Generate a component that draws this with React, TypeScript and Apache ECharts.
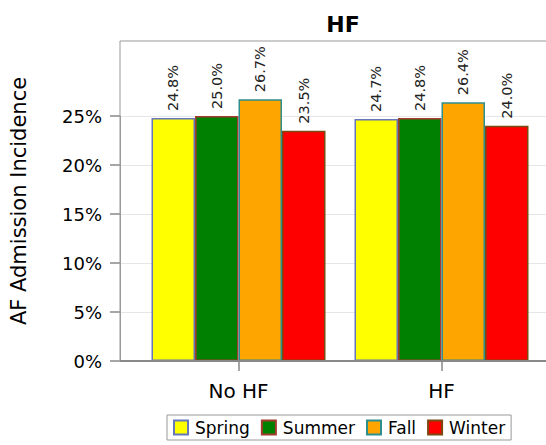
import React, { useEffect, useRef } from "react";
import * as echarts from "echarts";

const categories = ["No HF", "HF"];
const seasons = ["Spring", "Summer", "Fall", "Winter"];
const springValues = [24.8, 24.7];
const summerValues = [25.0, 24.8];
const fallValues = [26.7, 26.4];
const winterValues = [23.5, 24.0];
const seasonValues = [springValues, summerValues, fallValues, winterValues];
const fillColors = ["#FFFF00", "#008000", "#FFA500", "#FF0000"];
const borderColors = ["#6677BB", "#A33B2E", "#2F8F8F", "#7A4A10"];
const yTickMax = 25;
const yTickStep = 5;

const FONT = "DejaVu Sans";

export default function App() {
  const ref = useRef<HTMLDivElement>(null);
  useEffect(() => {
    if (!ref.current) return;
    const chart = echarts.init(ref.current, null, { renderer: "svg" });
    const series: any[] = seasons.map((name, i) => ({
      name,
      type: "bar",
      xAxisIndex: 0,
      yAxisIndex: 0,
      data: seasonValues[i],
      barWidth: 43.5,
      barGap: "0%",
      itemStyle: {
        color: fillColors[i],
        borderColor: borderColors[i],
        borderWidth: 1.5,
      },
      label: {
        show: true,
        position: "top",
        rotate: 90,
        align: "left",
        verticalAlign: "middle",
        distance: 7,
        fontFamily: FONT,
        fontSize: 14.5,
        color: "#222",
        formatter: (p: any) => p.value.toFixed(1) + "%",
      },
      z: 3,
    }));
    chart.setOption({
      animation: false,
      backgroundColor: "#fff",
      title: {
        text: "HF",
        left: 338,
        textAlign: "center",
        top: 8,
        textStyle: { fontFamily: FONT, fontSize: 22, fontWeight: "bold", color: "#000" },
      },
      legend: {
        data: seasons,
        left: 167,
        top: 415,
        icon: "rect",
        itemWidth: 14,
        itemHeight: 14,
        itemGap: 11,
        padding: [4, 6],
        borderColor: "#999",
        borderWidth: 1,
        textStyle: { fontFamily: FONT, fontSize: 17, color: "#000", padding: [0, 0, 0, 2] },
      },
      grid: [
        { left: 133, right: 3, top: 41, bottom: 84 },
        { left: 120, right: 0, top: 116, bottom: 84 },
      ],
      xAxis: [
        {
          type: "category",
          gridIndex: 0,
          data: categories,
          axisLine: { show: false },
          axisTick: { show: true, alignWithLabel: true, length: 10, lineStyle: { color: "#888", width: 1.5 } },
          axisLabel: { fontFamily: FONT, fontSize: 20, color: "#000", margin: 20 },
        },
        { type: "value", gridIndex: 1, show: false, min: 0, max: 1 },
      ],
      yAxis: [
        {
          type: "value",
          gridIndex: 0,
          min: 0,
          max: 32.65,
          name: "AF Admission Incidence",
          nameLocation: "middle",
          nameGap: 108,
          nameTextStyle: { fontFamily: FONT, fontSize: 21, color: "#000" },
          axisLine: { show: false },
          axisTick: { show: false },
          axisLabel: { show: false },
          splitLine: { show: false },
        },
        {
          type: "value",
          gridIndex: 1,
          min: 0,
          max: yTickMax,
          interval: yTickStep,
          axisLine: { show: true, lineStyle: { color: "#999", width: 1 } },
          axisTick: { show: true, length: 10, lineStyle: { color: "#888", width: 1.5 } },
          axisLabel: {
            fontFamily: FONT,
            fontSize: 18,
            color: "#000",
            margin: 18,
            formatter: (v: number) => v + "%",
          },
          splitLine: { show: true, lineStyle: { color: "#e6e6e6", width: 1 } },
        },
      ],
      graphic: [
        {
          type: "rect",
          shape: { x: 120, y: 41, width: 500, height: 320 },
          style: { fill: "none", stroke: "#999", lineWidth: 1 },
          z: 1,
        },
        {
          type: "line",
          shape: { x1: 120, y1: 361, x2: 546, y2: 361 },
          style: { stroke: "#888", lineWidth: 2 },
          z: 10,
        },
      ],
      series,
    });
    return () => chart.dispose();
  }, []);
  return (
    <div
      ref={ref}
      style={{ position: "absolute", left: 0, top: 0, width: 546, height: 445 }}
    />
  );
}
